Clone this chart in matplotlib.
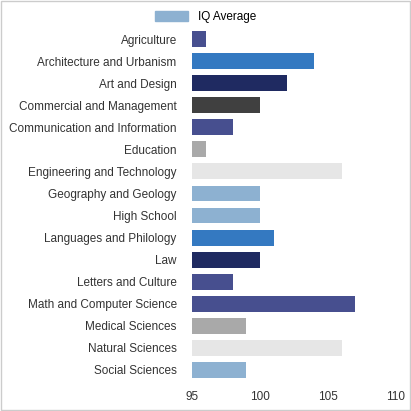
import matplotlib
matplotlib.use("Agg")
import matplotlib.pyplot as plt
from matplotlib.patches import Patch

plt.rcParams['font.family'] = ['Liberation Sans', 'DejaVu Sans']

categories = ["Agriculture", "Architecture and Urbanism", "Art and Design",
              "Commercial and Management", "Communication and Information", "Education",
              "Engineering and Technology", "Geography and Geology", "High School",
              "Languages and Philology", "Law", "Letters and Culture",
              "Math and Computer Science", "Medical Sciences", "Natural Sciences",
              "Social Sciences"]
values = [96, 104, 102, 100, 98, 96, 106, 100, 100, 101, 100, 98, 107, 99, 106, 99]
colors = ["#474f8f", "#3479c1", "#1f2a61", "#404040", "#474f8f", "#a9a9a9",
          "#e6e6e6", "#8db1d1", "#8db1d1", "#3479c1", "#1f2a61", "#474f8f",
          "#474f8f", "#a9a9a9", "#e6e6e6", "#8db1d1"]

fig = plt.figure(figsize=(4.11, 4.11), dpi=100)
ax = fig.add_axes([192/411, 30/411, 204/411, 353/411])
y = list(range(len(categories)))
ax.barh(y, [v - 95 for v in values], left=95, color=colors, height=0.72)
ax.set_xlim(95, 110)
ax.set_ylim(len(categories) - 0.5, -0.5)
ax.set_yticks(y)
ax.set_yticklabels(categories, fontsize=8.5, color="#333333")
ax.set_xticks([95, 100, 105, 110])
ax.tick_params(axis="x", labelsize=8.5, colors="#333333", length=0, pad=7)
ax.tick_params(axis="y", length=0, pad=11)
for s in ax.spines.values():
    s.set_visible(False)
fig.legend(handles=[Patch(color="#8db1d1")], labels=["IQ Average"], loc="upper center",
           bbox_to_anchor=(0.5, 1.0), frameon=False, fontsize=8.5,
           handlelength=2.8, handleheight=1.0)
fig.patches.append(plt.Rectangle((0.002, 0.002), 0.996, 0.996, transform=fig.transFigure,
                                 fill=False, edgecolor="#cccccc", linewidth=1))
fig.savefig("out.png", dpi=100)
